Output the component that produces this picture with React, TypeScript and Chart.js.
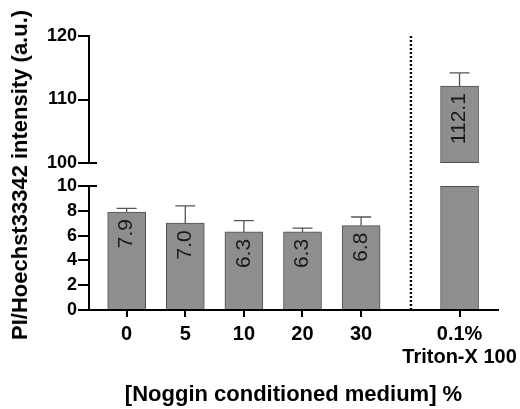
import React, { useEffect, useRef } from "react";
import { Chart, registerables } from "chart.js";

Chart.register(...registerables);

// ---- data ----
const CATEGORIES: string[][] = [["0"], ["5"], ["10"], ["20"], ["30"], ["0.1%", "Triton-X 100"]];
const X_POSITIONS = [0, 1, 2, 3, 4, 5.68];
const MEANS = [7.9, 7.0, 6.3, 6.3, 6.8, 112.1];
const ERRORS = [0.3, 1.4, 0.9, 0.3, 0.7, 2.1];
const LOWER_TICKS = [0, 2, 4, 6, 8, 10];
const UPPER_TICKS = [100, 110, 120];
const DIVIDER_X = 4.85;
const X_MIN = -0.643;
const X_MAX = 6.336;
const Y_TITLE = "PI/Hoechst33342 intensity (a.u.)";
const X_TITLE = "[Noggin conditioned medium] %";

// ---- layout / style ----
const W = 520;
const H = 409;
const AXIS_W = 89;
const PAD_RIGHT = 22;
const UPPER_TOP = 36;
const UPPER_BOTTOM = 163;
const LOWER_TOP = 186;
const LOWER_BOTTOM = 310;
const BAR_W = 38;
const FONT = '"Liberation Sans", Arial, sans-serif';
const BAR_FILL = "#8e8e8e";
const BAR_EDGE = "#505050";
const ERR_COLOR = "#555555";

function yAxis(min: number, max: number, ticks: number[]) {
  return {
    type: "linear",
    min,
    max,
    afterBuildTicks: (s: any) => {
      s.ticks = ticks.map((v) => ({ value: v }));
    },
    afterFit: (s: any) => {
      s.width = AXIS_W;
    },
    grid: { drawOnChartArea: false, drawTicks: true, tickLength: 11, color: "#000", lineWidth: 2 },
    border: { display: true, color: "#000", width: 2 },
    ticks: { color: "#000", padding: 1, font: { family: FONT, size: 18, weight: "bold" } },
  };
}

function makePlugin(part: "upper" | "lower") {
  return {
    id: "decor_" + part,
    afterDatasetsDraw(chart: any) {
      const { ctx, chartArea, scales } = chart;
      const x = scales.x;
      const y = scales.y;

      // edges of bars cut by the axis break
      ctx.save();
      ctx.strokeStyle = BAR_EDGE;
      ctx.lineWidth = 1;
      MEANS.forEach((m, i) => {
        const px = x.getPixelForValue(X_POSITIONS[i]);
        if (part === "lower" && m > y.max) {
          ctx.beginPath();
          ctx.moveTo(px - BAR_W / 2, chartArea.top + 0.5);
          ctx.lineTo(px + BAR_W / 2, chartArea.top + 0.5);
          ctx.stroke();
        }
        if (part === "upper" && m > y.min) {
          ctx.beginPath();
          ctx.moveTo(px - BAR_W / 2, chartArea.bottom - 0.5);
          ctx.lineTo(px + BAR_W / 2, chartArea.bottom - 0.5);
          ctx.stroke();
        }
      });
      ctx.restore();

      // error bars
      ctx.save();
      ctx.beginPath();
      ctx.rect(chartArea.left, chartArea.top - 2, chartArea.right - chartArea.left, chartArea.bottom - chartArea.top + 2);
      ctx.clip();
      ctx.strokeStyle = ERR_COLOR;
      ctx.lineWidth = 1.3;
      MEANS.forEach((m, i) => {
        const px = x.getPixelForValue(X_POSITIONS[i]);
        const y0 = y.getPixelForValue(m);
        const y1 = y.getPixelForValue(m + ERRORS[i]);
        ctx.beginPath();
        ctx.moveTo(px, y0);
        ctx.lineTo(px, y1);
        ctx.moveTo(px - 10, y1);
        ctx.lineTo(px + 10, y1);
        ctx.stroke();
      });
      ctx.restore();

      // value labels
      ctx.save();
      ctx.fillStyle = "#1a1a1a";
      ctx.font = `21px ${FONT}`;
      ctx.textAlign = "right";
      ctx.textBaseline = "middle";
      MEANS.forEach((m, i) => {
        if (m < y.min || m > y.max) return;
        const px = x.getPixelForValue(X_POSITIONS[i]);
        const py = y.getPixelForValue(m);
        ctx.save();
        ctx.translate(px, py + 7);
        ctx.rotate(-Math.PI / 2);
        ctx.fillText(m.toFixed(1), 0, 0);
        ctx.restore();
      });
      ctx.restore();

      // axis break marks
      ctx.save();
      ctx.strokeStyle = "#000";
      ctx.lineWidth = 2;
      const by = part === "upper" ? y.getPixelForValue(y.min) : y.getPixelForValue(y.max);
      ctx.beginPath();
      ctx.moveTo(chartArea.left - 1, by);
      ctx.lineTo(chartArea.left + 8, by);
      ctx.stroke();
      ctx.restore();

      // dotted divider
      if (part === "upper") {
        const dx = x.getPixelForValue(DIVIDER_X);
        ctx.save();
        ctx.strokeStyle = "#000";
        ctx.lineWidth = 2.4;
        ctx.setLineDash([2, 2]);
        ctx.beginPath();
        ctx.moveTo(dx, chartArea.top);
        ctx.lineTo(dx, LOWER_BOTTOM);
        ctx.stroke();
        ctx.restore();
      }
    },
  };
}

function makeConfig(part: "upper" | "lower"): any {
  const isUpper = part === "upper";
  return {
    type: "bar",
    data: {
      datasets: [
        {
          data: X_POSITIONS.map((xv, i) => ({ x: xv, y: MEANS[i] })),
          backgroundColor: BAR_FILL,
          borderColor: BAR_EDGE,
          borderWidth: 1,
          barThickness: BAR_W,
        },
      ],
    },
    options: {
      responsive: false,
      animation: false,
      events: [],
      devicePixelRatio: 1,
      layout: {
        padding: isUpper
          ? { top: UPPER_TOP, bottom: H - UPPER_BOTTOM, left: 0, right: PAD_RIGHT }
          : { top: LOWER_TOP, bottom: 0, left: 0, right: PAD_RIGHT },
      },
      plugins: { legend: { display: false }, tooltip: { enabled: false } },
      scales: {
        x: isUpper
          ? { type: "linear", min: X_MIN, max: X_MAX, offset: false, display: false, grid: { offset: false } }
          : {
              type: "linear",
              min: X_MIN,
              max: X_MAX,
              offset: false,
              afterBuildTicks: (s: any) => {
                s.ticks = X_POSITIONS.map((v) => ({ value: v }));
              },
              afterFit: (s: any) => {
                s.height = H - LOWER_BOTTOM;
                s.paddingLeft = 0;
                s.paddingRight = 0;
              },
              grid: { offset: false, drawOnChartArea: false, drawTicks: true, tickLength: 7, color: "#000", lineWidth: 2 },
              border: { display: true, color: "#000", width: 2 },
              ticks: {
                autoSkip: false,
                maxRotation: 0,
                minRotation: 0,
                padding: 6,
                color: "#000",
                font: { family: FONT, size: 20, weight: "bold", lineHeight: 1.14 },
                callback: (_v: any, i: number) => CATEGORIES[i],
              },
              title: {
                display: true,
                text: X_TITLE,
                color: "#000",
                font: { family: FONT, size: 22, weight: "bold", lineHeight: 1.2 },
                padding: { top: 0, bottom: 1 },
              },
            },
        y: isUpper ? yAxis(100, 120, UPPER_TICKS) : yAxis(0, 10, LOWER_TICKS),
      },
    },
    plugins: [makePlugin(part)],
  };
}

export default function App() {
  const upperRef = useRef<HTMLCanvasElement>(null);
  const lowerRef = useRef<HTMLCanvasElement>(null);

  useEffect(() => {
    const lower = new Chart(lowerRef.current as HTMLCanvasElement, makeConfig("lower"));
    const upper = new Chart(upperRef.current as HTMLCanvasElement, makeConfig("upper"));
    return () => {
      upper.destroy();
      lower.destroy();
    };
  }, []);

  const canvasStyle: React.CSSProperties = { position: "absolute", left: 0, top: 0, width: W, height: H };

  return (
    <div style={{ position: "fixed", left: 0, top: 0, width: W, height: H, background: "#fff", overflow: "hidden" }}>
      <canvas ref={lowerRef} width={W} height={H} style={canvasStyle} />
      <canvas ref={upperRef} width={W} height={H} style={{ ...canvasStyle, pointerEvents: "none" }} />
      <div
        style={{
          position: "absolute",
          left: 20,
          top: 174.5,
          transform: "translate(-50%, -50%) rotate(-90deg)",
          whiteSpace: "nowrap",
          fontFamily: FONT,
          fontWeight: "bold",
          fontSize: 22,
          lineHeight: 1,
          color: "#000",
        }}
      >
        {Y_TITLE}
      </div>
    </div>
  );
}
